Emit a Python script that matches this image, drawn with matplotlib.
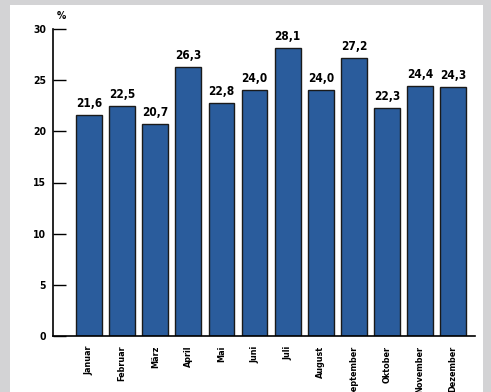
import matplotlib.pyplot as plt
from matplotlib.patches import Rectangle

months = ['Januar', 'Februar', 'März', 'April', 'Mai', 'Juni', 'Juli',
          'August', 'September', 'Oktober', 'November', 'Dezember']
values = [21.6, 22.5, 20.7, 26.3, 22.8, 24.0, 28.1, 24.0, 27.2, 22.3, 24.4, 24.3]
yticks = [0, 5, 10, 15, 20, 25, 30]

# condensed bold look of the original
txt = dict(family='DejaVu Sans', fontweight='bold', fontstretch='condensed')

fig = plt.figure(figsize=(4.91, 3.92), dpi=100, facecolor='#d3d3d5')
# white panel inside the grey frame
fig.patches.append(Rectangle((10 / 491, 0), 473 / 491, 1 - 5 / 392,
                             transform=fig.transFigure, facecolor='white',
                             edgecolor='none', zorder=-10))

ax = fig.add_axes([53 / 491, 1 - 336 / 392, 422 / 491, 307 / 392])
ax.set_facecolor('none')

x = range(len(months))
ax.bar(x, values, width=0.78, color='#2a5c9c', edgecolor='#1a1a1a', linewidth=1.0)

for i, v in zip(x, values):
    ax.text(i, v + 0.5, f'{v:.1f}'.replace('.', ','), ha='center', va='bottom',
            fontsize=8.5, **txt)

ax.set_xlim(-1.09, 11.66)
ax.set_ylim(0, 30)
ax.set_yticks(yticks)
ax.set_yticklabels([str(t) for t in yticks], fontsize=7.5, **txt)
ax.set_xticks(list(x))
ax.set_xticklabels(months, rotation=90, fontsize=6.5, va='top', **txt)
ax.tick_params(axis='y', direction='in', length=9, width=1.0, pad=5)
ax.tick_params(axis='x', length=0, pad=7)

for s in ['top', 'right']:
    ax.spines[s].set_visible(False)
ax.spines['left'].set_linewidth(1.2)
ax.spines['bottom'].set_linewidth(1.2)

ax.text(0.01, 30.8, '%', fontsize=7.5, transform=ax.get_yaxis_transform(),
        ha='left', va='bottom', **txt)

fig.savefig('out.png', dpi=100, facecolor=fig.get_facecolor())
